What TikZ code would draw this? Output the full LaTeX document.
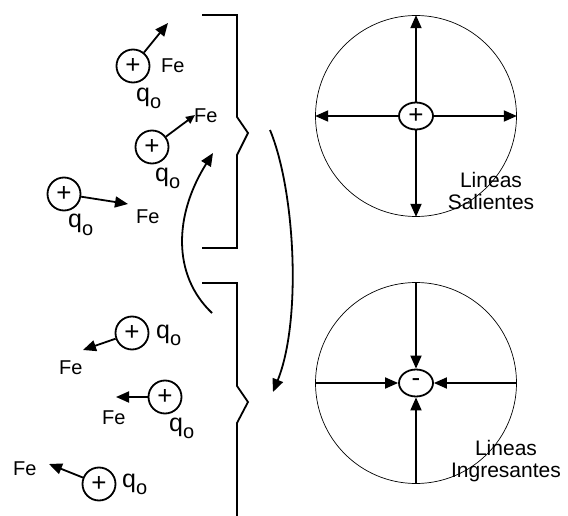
\documentclass[tikz,border=0pt]{standalone}
\usepackage{fontspec}
\setmainfont{Liberation Sans}
\usetikzlibrary{arrows.meta,shapes.geometric}

\newcommand{\qo}{{\fontsize{25}{25}\selectfont q\raisebox{-7pt}{\fontsize{20}{20}\selectfont o}}}

\tikzset{
  charge/.style={draw, circle, line width=1.8pt, inner sep=0pt, minimum size=33pt, font=\fontsize{26}{26}\selectfont},
  core/.style={draw, ellipse, line width=1.8pt, inner sep=0pt, minimum width=34pt, minimum height=27pt, font=\fontsize{26}{26}\selectfont},
  field/.style={draw, circle, line width=0.7pt, inner sep=0pt, minimum size=201pt},
  lbl/.style={inner sep=0pt, anchor=base west, font=\fontsize{20}{20}\selectfont},
  txt/.style={inner sep=0pt, font=\fontsize{21}{22}\selectfont, align=center},
  fl/.style={line width=1.8pt, -{Triangle[length=13pt,width=11pt]}},
  wall/.style={line width=1.8pt},
}

\begin{document}
\begin{tikzpicture}[x=1pt,y=-1pt]
  \useasboundingbox (0,0) rectangle (568,516);
  % Placa superior
  \draw[wall] (202,15) -- (237,15) -- (237,117) -- (248,133) -- (237,155) -- (237,248) -- (202,248);
  % Placa inferior
  \draw[wall] (202,283) -- (237,283) -- (237,386) -- (248,402) -- (237,423) -- (237,516);
  % Cargas de prueba arriba
  \node[charge] (c1) at (133,66) {+};
  \coordinate (t1) at (168,23);
  \node[lbl] (f1) at (161,73) {Fe};
  \node[lbl] (q1) at (136,102) {\qo};
  \draw[fl] (c1) -- (t1);
  \node[charge] (c2) at (152,147) {+};
  \coordinate (t2) at (195,115);
  \node[lbl] (f2) at (194,123) {Fe};
  \node[lbl] (q2) at (155,182) {\qo};
  \draw[line width=1.8pt, -{Triangle[length=9pt,width=8pt]}] (c2) -- (t2);
  \node[charge] (c3) at (64,194) {+};
  \coordinate (t3) at (128,204);
  \node[lbl] (f3) at (136,223) {Fe};
  \node[lbl] (q3) at (68,228) {\qo};
  \draw[fl] (c3) -- (t3);
  % Cargas de prueba abajo
  \node[charge] (c4) at (132,333) {+};
  \coordinate (t4) at (83,350);
  \node[lbl] (f4) at (59,374) {Fe};
  \node[lbl] (q4) at (156,338) {\qo};
  \draw[fl] (c4) -- (t4);
  \node[charge] (c5) at (165,397) {+};
  \coordinate (t5) at (116,397);
  \node[lbl] (f5) at (102,424) {Fe};
  \node[lbl] (q5) at (169,431) {\qo};
  \draw[fl] (c5) -- (t5);
  \node[charge] (c6) at (99,484) {+};
  \coordinate (t6) at (49,464);
  \node[lbl] (f6) at (13,475) {Fe};
  \node[lbl] (q6) at (122,487) {\qo};
  \draw[fl] (c6) -- (t6);
  % Flechas curvas
  \coordinate (a1) at (212,313);
  \coordinate (a2) at (213,153);
  \draw[fl] (a1) .. controls (172,275) and (174,215) .. (a2);
  \coordinate (b1) at (270,130);
  \coordinate (b2) at (273,392);
  \draw[fl] (b1) .. controls (295,190) and (302,320) .. (b2);
  % Lineas salientes
  \node[field] (s) at (416,116) {};
  \node[core] (p) at (416,116) {+};
  \foreach \a in {north,south,east,west}
    \draw[fl] (p) -- (s.\a);
  \node[txt] (ls) at (491,191) {Lineas\\Salientes};
  % Lineas ingresantes
  \node[field] (g) at (416,383) {};
  \node[core] (m) at (416,383) {-};
  \foreach \a in {north,south,east,west}
    \draw[fl] (g.\a) -- (m);
  \node[txt] (li) at (506,461) {Lineas\\Ingresantes};
\end{tikzpicture}
\end{document}
